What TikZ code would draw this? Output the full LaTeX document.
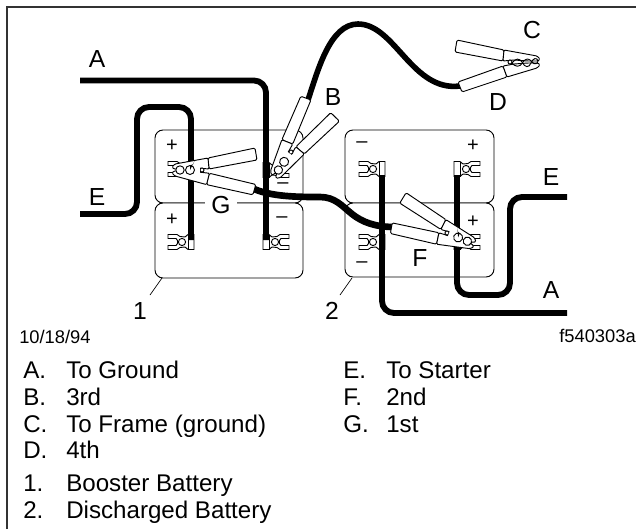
\documentclass[tikz,border=0pt]{standalone}
\usepackage{fontspec}
\setmainfont{Liberation Sans}
\newcommand{\termi}[3]{%
\begin{scope}[shift={(#1,#2)},xscale=#3]
\draw[termline] (-13,-7.5)--(-4,-7.5)--(-1,-5.5)--(4,-5)--(7,-7.5)--(13,-7.5)--(13,7.5)--(7,7.5)--(4,5)--(-1,5.5)--(-4,7.5)--(-13,7.5)--(-13,3.5)--(-5,3.5)--(-3.5,1.5)--(-3.5,-1.5)--(-5,-3.5)--(-13,-3.5)--cycle;
\draw[termline] (1,0) circle (3.6);
\draw[termline] (7,-7.5)--(7,7.5);
\end{scope}}
\newcommand{\clampbody}[1]{%
\draw[clampline,rounded corners=1] (-6,-12)--(-53,-22)--(-55,-10)--(-7,-1)--cycle;
\begin{scope}[rotate=#1]
\draw[clampline,rounded corners=1] (-7,4)--(-52,20)--(-48,30)--(-3,15)--cycle;
\end{scope}
\draw[clampline,rounded corners=0.8] (-6,-12)--(27,-6)--(30,-3)--(28,-1)--(18,-1)--(4,-2)--(-7,-1)--cycle;
\draw[clampline,rounded corners=0.8] ([rotate=#1]-7,4)--([rotate=#1]-3,15)--(27,6)--(30,3)--(28,1)--(18,1)--(4,2)--cycle;
\draw[clampline] (0,0) circle (2);}
\newcommand{\clampjaw}{%
\fill[white] (2,-3.5) rectangle (26,3.5);
\draw[clampline] (22,0) circle (4.2);
\draw[clampline] (12,0) circle (4.5);
\fill (12,0) -- (12,-4.5) arc (90:180:4.5) -- cycle;}
\begin{document}
\begin{tikzpicture}[x=0.75pt,y=-0.75pt,
  battery/.style={draw=black,line width=0.7pt,rounded corners=6pt,fill=white},
  termline/.style={draw=black,fill=white,line width=0.7pt},
  clampline/.style={draw=black,fill=white,line width=0.7pt},
  wire/.style={draw=black,line width=4.4pt,rounded corners=9pt},
  leader/.style={draw=black,line width=0.5pt},
  frameline/.style={draw=black!80,line width=0.9pt},
  lab/.style={font=\fontsize{18.5}{20}\selectfont,inner sep=0pt},
  sign/.style={font=\fontsize{15}{18}\selectfont,inner sep=0pt},
  small/.style={font=\fontsize{13.75}{16}\selectfont,inner sep=0pt,anchor=base west},
  item/.style={font=\fontsize{18.1}{20}\selectfont,inner sep=0pt,anchor=base west}]
\useasboundingbox (0,0) rectangle (636,529);
\draw[frameline] (7,529)--(7,7)--(636,7);
% batteries
\draw[battery] (155,130) rectangle (303,203);
\draw[battery] (155,203) rectangle (303,278);
\draw[battery] (345,130) rectangle (494,203);
\draw[battery] (345,203) rectangle (494,277);
% terminals
\termi{181}{169}{1}\termi{276}{170}{-1}\termi{181}{242}{1}\termi{276}{242}{-1}
\termi{372}{169}{1}\termi{467}{169}{-1}\termi{372}{242}{1}\termi{467}{242}{-1}
% signs
\node[sign] (s1) at (172,146) {+};
\node[sign] (s2) at (283,186) {–};
\node[sign] (s3) at (172,220) {+};
\node[sign] (s4) at (282,220) {–};
\node[sign] (s5) at (362,145) {–};
\node[sign] (s6) at (473,146) {+};
\node[sign] (s7) at (473,222) {+};
\node[sign] (s8) at (362,265) {–};
% wires
\draw[wire] (80,80.5)--(266,80.5)--(266,240);
\draw[wire] (80,214)--(137,214)--(137,107)--(191,107)--(191,240);
\draw[wire] (382,175)--(382,313)--(567,313);
\draw[wire] (457,175)--(457,295)--(510,295)--(510,197)--(567,197);
\draw[draw=black,line width=5pt] (252,188) .. controls (270,197) and (300,197) .. (320,197) .. controls (335,197) and (342,206) .. (352,214) .. controls (362,222) and (375,227) .. (394,227);
\draw[draw=black,line width=4.2pt] (308,100) .. controls (318,70) and (330,24) .. (358,24) .. controls (395,24) and (412,92) .. (460,86);
% clamps
\begin{scope}[shift={(510,62)}]\clampbody{0}
\draw[line width=0.7pt] (2,1) .. controls (6,-4) and (9,-4) .. (12,0) .. controls (15,6) and (19,6) .. (21,1) .. controls (23,-4) and (27,-5) .. (28,-1) .. controls (28,2) and (24,3) .. (22,0) .. controls (19,-4) and (16,-4) .. (13,0) .. controls (10,6) and (5,5) .. (2,1);
\end{scope}
\begin{scope}[shift={(202,170)},xscale=-1]\clampbody{-6}\clampjaw\end{scope}
\begin{scope}[shift={(447,233)},rotate=-22]\clampbody{-9.5}\clampjaw\end{scope}
\begin{scope}[shift={(291,152)},rotate=-125]\clampbody{-7}
\fill[white] (2,-3.5) rectangle (26,3.5);
\draw[clampline] (22,0) circle (4.2);
\draw[clampline] (12,0) circle (4.5);\end{scope}
% leaders
\node[lab] (n1) at (140,311) {1};
\node[lab] (n2) at (332,311) {2};
\draw[leader] (162,278)--(150,295);
\draw[leader] (352,278)--(340,295);
% labels
\node[lab] (la1) at (97,59) {A};
\node[lab] (lb) at (333,97) {B};
\node[lab] (lc) at (532,30) {C};
\node[lab] (ld) at (498,102) {D};
\node[lab] (le1) at (97,197) {E};
\node[lab] (le2) at (551,177) {E};
\node[lab] (la2) at (551,290) {A};
\node[lab,fill=white,inner xsep=5pt,inner ysep=1pt] (lg) at (221,205) {G};
\node[lab] (lf) at (420,258) {F};
\node[small] (date) at (19,343) {10/18/94};
\node[small,anchor=base east] (code) at (636,342) {f540303a};
\node[item] (ia) at (23,378) {A.};\node[item] (ta) at (66,378) {To Ground};
\node[item] (ib) at (23,405) {B.};\node[item] (tb) at (66,405) {3rd};
\node[item] (ic) at (23,432) {C.};\node[item] (tc) at (66,432) {To Frame (ground)};
\node[item] (id) at (23,458) {D.};\node[item] (td) at (66,458) {4th};
\node[item] (i1) at (23,491) {1.};\node[item] (t1) at (66,491) {Booster Battery};
\node[item] (i2) at (23,518) {2.};\node[item] (t2) at (66,518) {Discharged Battery};
\node[item] (ie) at (343,378) {E.};\node[item] (te) at (386,378) {To Starter};
\node[item] (if) at (343,405) {F.};\node[item] (tf) at (386,405) {2nd};
\node[item] (ig) at (343,432) {G.};\node[item] (tg) at (386,432) {1st};
\end{tikzpicture}
\end{document}
